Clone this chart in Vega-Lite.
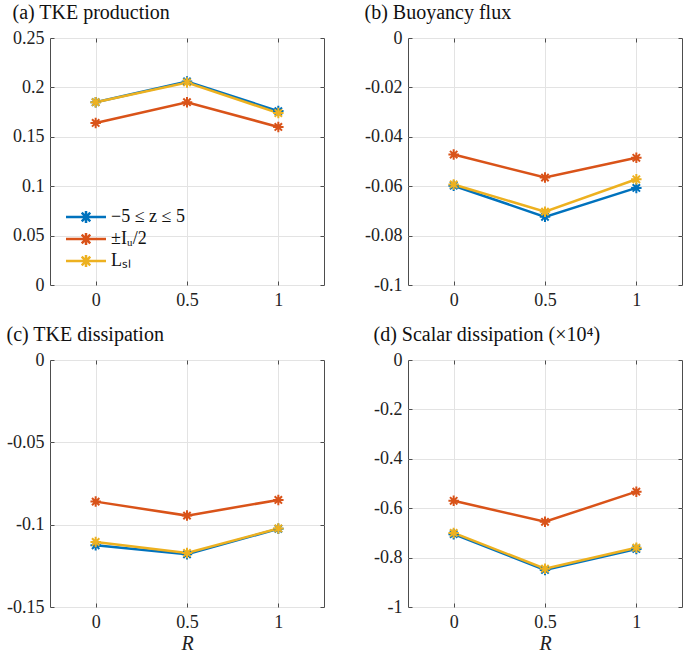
{
  "$schema": "https://vega.github.io/schema/vega-lite/v6.json",
  "padding": {"left": 6, "top": 2, "right": 1, "bottom": 2},
  "background": "white",
  "datasets": {
    "d": [
      {"panel": "a", "R": 0, "series": "−5 ≤ z ≤ 5", "value": 0.185},
      {"panel": "a", "R": 0.5, "series": "−5 ≤ z ≤ 5", "value": 0.206},
      {"panel": "a", "R": 1, "series": "−5 ≤ z ≤ 5", "value": 0.176},
      {"panel": "a", "R": 0, "series": "±Iᵤ/2", "value": 0.164},
      {"panel": "a", "R": 0.5, "series": "±Iᵤ/2", "value": 0.185},
      {"panel": "a", "R": 1, "series": "±Iᵤ/2", "value": 0.160},
      {"panel": "a", "R": 0, "series": "Lₛₗ", "value": 0.185},
      {"panel": "a", "R": 0.5, "series": "Lₛₗ", "value": 0.205},
      {"panel": "a", "R": 1, "series": "Lₛₗ", "value": 0.174},
      {"panel": "b", "R": 0, "series": "−5 ≤ z ≤ 5", "value": -0.0598},
      {"panel": "b", "R": 0.5, "series": "−5 ≤ z ≤ 5", "value": -0.0724},
      {"panel": "b", "R": 1, "series": "−5 ≤ z ≤ 5", "value": -0.0607},
      {"panel": "b", "R": 0, "series": "±Iᵤ/2", "value": -0.0472},
      {"panel": "b", "R": 0.5, "series": "±Iᵤ/2", "value": -0.0565},
      {"panel": "b", "R": 1, "series": "±Iᵤ/2", "value": -0.0485},
      {"panel": "b", "R": 0, "series": "Lₛₗ", "value": -0.0593},
      {"panel": "b", "R": 0.5, "series": "Lₛₗ", "value": -0.0703},
      {"panel": "b", "R": 1, "series": "Lₛₗ", "value": -0.0572},
      {"panel": "c", "R": 0, "series": "−5 ≤ z ≤ 5", "value": -0.1125},
      {"panel": "c", "R": 0.5, "series": "−5 ≤ z ≤ 5", "value": -0.118},
      {"panel": "c", "R": 1, "series": "−5 ≤ z ≤ 5", "value": -0.1025},
      {"panel": "c", "R": 0, "series": "±Iᵤ/2", "value": -0.086},
      {"panel": "c", "R": 0.5, "series": "±Iᵤ/2", "value": -0.0945},
      {"panel": "c", "R": 1, "series": "±Iᵤ/2", "value": -0.085},
      {"panel": "c", "R": 0, "series": "Lₛₗ", "value": -0.1105},
      {"panel": "c", "R": 0.5, "series": "Lₛₗ", "value": -0.1172},
      {"panel": "c", "R": 1, "series": "Lₛₗ", "value": -0.1023},
      {"panel": "d", "R": 0, "series": "−5 ≤ z ≤ 5", "value": -0.705},
      {"panel": "d", "R": 0.5, "series": "−5 ≤ z ≤ 5", "value": -0.85},
      {"panel": "d", "R": 1, "series": "−5 ≤ z ≤ 5", "value": -0.765},
      {"panel": "d", "R": 0, "series": "±Iᵤ/2", "value": -0.57},
      {"panel": "d", "R": 0.5, "series": "±Iᵤ/2", "value": -0.655},
      {"panel": "d", "R": 1, "series": "±Iᵤ/2", "value": -0.533},
      {"panel": "d", "R": 0, "series": "Lₛₗ", "value": -0.70},
      {"panel": "d", "R": 0.5, "series": "Lₛₗ", "value": -0.845},
      {"panel": "d", "R": 1, "series": "Lₛₗ", "value": -0.76}
    ]
  },
  "columns": 2,
  "spacing": {"row": 14, "column": 39},
  "resolve": {"legend": {"color": "independent"}, "scale": {"y": "independent"}},
  "concat": [
    {
      "width": 274, "height": 247,
      "title": {"text": "(a) TKE production"},
      "data": {"name": "d"},
      "transform": [{"filter": "datum.panel === 'a'"}],
      "encoding": {
        "color": {"field": "series", "type": "nominal", "sort": null,
          "scale": {"domain": ["−5 ≤ z ≤ 5", "±Iᵤ/2", "Lₛₗ"], "range": ["#0072BD", "#D95319", "#EDB120"]},
          "legend": {"orient": "none", "legendX": 27, "legendY": 170, "title": null,
            "symbolType": "M-3,0L3,0M-0.9,0L0.9,0M0,-0.9L0,0.9M-0.64,-0.64L0.64,0.64M-0.64,0.64L0.64,-0.64",
            "symbolSize": 178, "symbolStrokeWidth": 2.5, "symbolFillColor": "transparent",
            "labelFont": "Liberation Serif", "labelFontSize": 18, "labelColor": "#111", "labelOffset": 16, "rowPadding": -2}}
      },
      "resolve": {"axis": {"x": "independent", "y": "independent"}},
      "layer": [
        {"mark": {"type": "line", "strokeWidth": 2.5},
         "encoding": {
          "x": {"field": "R", "type": "quantitative", "scale": {"domain": [-0.25, 1.25], "nice": false}, "axis": {"values": [0, 0.5, 1], "title": null}},
          "y": {"field": "value", "type": "quantitative", "scale": {"domain": [0, 0.25], "nice": false, "zero": false}, "axis": {"values": [0, 0.05, 0.1, 0.15, 0.2, 0.25], "title": null}}
         }},
        {"mark": {"type": "point", "shape": "M-1,0L1,0M0,-1L0,1M-0.7,-0.7L0.7,0.7M-0.7,0.7L0.7,-0.7", "filled": false, "size": 110, "strokeWidth": 2, "opacity": 1},
         "encoding": {
          "x": {"field": "R", "type": "quantitative", "scale": {"domain": [-0.25, 1.25], "nice": false}, "axis": {"orient": "top", "values": [0, 0.5, 1], "labels": false, "grid": false, "title": null}},
          "y": {"field": "value", "type": "quantitative", "scale": {"domain": [0, 0.25], "nice": false, "zero": false}, "axis": {"orient": "right", "values": [0, 0.05, 0.1, 0.15, 0.2, 0.25], "labels": false, "grid": false, "title": null}}
         }}
      ]
    },
    {
      "width": 274, "height": 247,
      "title": {"text": "(b) Buoyancy flux"},
      "data": {"name": "d"},
      "transform": [{"filter": "datum.panel === 'b'"}],
      "encoding": {
        "color": {"field": "series", "type": "nominal", "sort": null,
          "scale": {"domain": ["−5 ≤ z ≤ 5", "±Iᵤ/2", "Lₛₗ"], "range": ["#0072BD", "#D95319", "#EDB120"]}, "legend": null}
      },
      "resolve": {"axis": {"x": "independent", "y": "independent"}},
      "layer": [
        {"mark": {"type": "line", "strokeWidth": 2.5},
         "encoding": {
          "x": {"field": "R", "type": "quantitative", "scale": {"domain": [-0.25, 1.25], "nice": false}, "axis": {"values": [0, 0.5, 1], "title": null}},
          "y": {"field": "value", "type": "quantitative", "scale": {"domain": [-0.1, 0], "nice": false, "zero": false}, "axis": {"values": [-0.1, -0.08, -0.06, -0.04, -0.02, 0], "title": null}}
         }},
        {"mark": {"type": "point", "shape": "M-1,0L1,0M0,-1L0,1M-0.7,-0.7L0.7,0.7M-0.7,0.7L0.7,-0.7", "filled": false, "size": 110, "strokeWidth": 2, "opacity": 1},
         "encoding": {
          "x": {"field": "R", "type": "quantitative", "scale": {"domain": [-0.25, 1.25], "nice": false}, "axis": {"orient": "top", "values": [0, 0.5, 1], "labels": false, "grid": false, "title": null}},
          "y": {"field": "value", "type": "quantitative", "scale": {"domain": [-0.1, 0], "nice": false, "zero": false}, "axis": {"orient": "right", "values": [-0.1, -0.08, -0.06, -0.04, -0.02, 0], "labels": false, "grid": false, "title": null}}
         }}
      ]
    },
    {
      "width": 274, "height": 247,
      "title": {"text": "(c) TKE dissipation"},
      "data": {"name": "d"},
      "transform": [{"filter": "datum.panel === 'c'"}],
      "encoding": {
        "color": {"field": "series", "type": "nominal", "sort": null,
          "scale": {"domain": ["−5 ≤ z ≤ 5", "±Iᵤ/2", "Lₛₗ"], "range": ["#0072BD", "#D95319", "#EDB120"]}, "legend": null}
      },
      "resolve": {"axis": {"x": "independent", "y": "independent"}},
      "layer": [
        {"mark": {"type": "line", "strokeWidth": 2.5},
         "encoding": {
          "x": {"field": "R", "type": "quantitative", "scale": {"domain": [-0.25, 1.25], "nice": false}, "axis": {"values": [0, 0.5, 1], "title": "R"}},
          "y": {"field": "value", "type": "quantitative", "scale": {"domain": [-0.15, 0], "nice": false, "zero": false}, "axis": {"values": [-0.15, -0.1, -0.05, 0], "title": null}}
         }},
        {"mark": {"type": "point", "shape": "M-1,0L1,0M0,-1L0,1M-0.7,-0.7L0.7,0.7M-0.7,0.7L0.7,-0.7", "filled": false, "size": 110, "strokeWidth": 2, "opacity": 1},
         "encoding": {
          "x": {"field": "R", "type": "quantitative", "scale": {"domain": [-0.25, 1.25], "nice": false}, "axis": {"orient": "top", "values": [0, 0.5, 1], "labels": false, "grid": false, "title": null}},
          "y": {"field": "value", "type": "quantitative", "scale": {"domain": [-0.15, 0], "nice": false, "zero": false}, "axis": {"orient": "right", "values": [-0.15, -0.1, -0.05, 0], "labels": false, "grid": false, "title": null}}
         }}
      ]
    },
    {
      "width": 274, "height": 247,
      "title": {"text": "(d) Scalar dissipation (×10⁴)"},
      "data": {"name": "d"},
      "transform": [{"filter": "datum.panel === 'd'"}],
      "encoding": {
        "color": {"field": "series", "type": "nominal", "sort": null,
          "scale": {"domain": ["−5 ≤ z ≤ 5", "±Iᵤ/2", "Lₛₗ"], "range": ["#0072BD", "#D95319", "#EDB120"]}, "legend": null}
      },
      "resolve": {"axis": {"x": "independent", "y": "independent"}},
      "layer": [
        {"mark": {"type": "line", "strokeWidth": 2.5},
         "encoding": {
          "x": {"field": "R", "type": "quantitative", "scale": {"domain": [-0.25, 1.25], "nice": false}, "axis": {"values": [0, 0.5, 1], "title": "R"}},
          "y": {"field": "value", "type": "quantitative", "scale": {"domain": [-1, 0], "nice": false, "zero": false}, "axis": {"values": [-1, -0.8, -0.6, -0.4, -0.2, 0], "title": null}}
         }},
        {"mark": {"type": "point", "shape": "M-1,0L1,0M0,-1L0,1M-0.7,-0.7L0.7,0.7M-0.7,0.7L0.7,-0.7", "filled": false, "size": 110, "strokeWidth": 2, "opacity": 1},
         "encoding": {
          "x": {"field": "R", "type": "quantitative", "scale": {"domain": [-0.25, 1.25], "nice": false}, "axis": {"orient": "top", "values": [0, 0.5, 1], "labels": false, "grid": false, "title": null}},
          "y": {"field": "value", "type": "quantitative", "scale": {"domain": [-1, 0], "nice": false, "zero": false}, "axis": {"orient": "right", "values": [-1, -0.8, -0.6, -0.4, -0.2, 0], "labels": false, "grid": false, "title": null}}
         }}
      ]
    }
  ],
  "config": {
    "font": "Liberation Serif",
    "view": {"stroke": "#4d4d4d", "strokeWidth": 1},
    "title": {"font": "Liberation Serif", "fontSize": 20, "fontWeight": "normal", "anchor": "start", "color": "#111", "offset": 6},
    "axis": {
      "domain": false,
      "grid": true, "gridColor": "#e3e3e3", "gridWidth": 1,
      "ticks": true, "tickSize": -4, "tickColor": "#4d4d4d",
      "labelFont": "Liberation Serif", "labelFontSize": 18, "labelColor": "#222", "labelPadding": 10,
      "labelExpr": "replace(format(datum.value, '~g'), '\u2212', '-')",
      "titleFont": "Liberation Serif", "titleFontSize": 20, "titleFontStyle": "italic", "titleFontWeight": "normal", "titleColor": "#222", "titlePadding": 2
    }
  }
}
